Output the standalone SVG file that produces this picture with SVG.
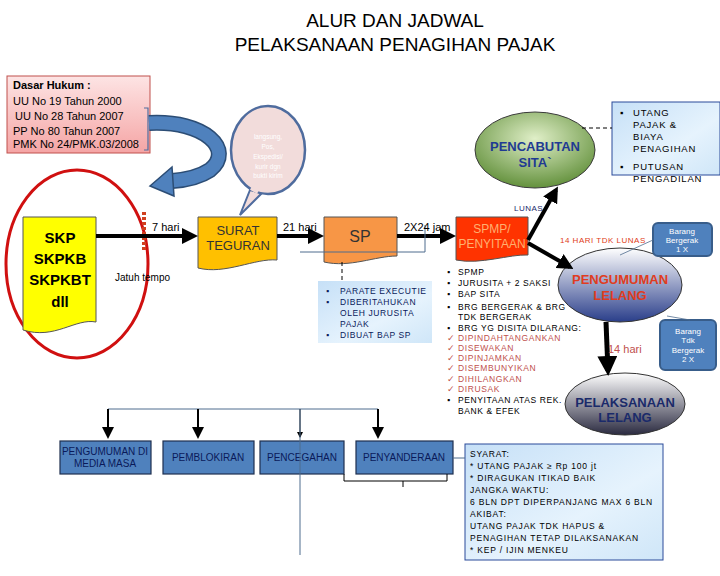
<svg xmlns="http://www.w3.org/2000/svg" width="720" height="576" viewBox="0 0 720 576">
<defs>
<style>
text{font-family:"Liberation Sans",Arial,sans-serif}
.bl{font-size:8.5px;letter-spacing:0.6px}
.th{stroke:#000;stroke-width:4;fill:none}
.thin{stroke:#4f6c8e;stroke-width:1;fill:none}
.box{fill:#4f81bd;stroke:#1f2f4f;stroke-width:1.2}
.bt{font-size:10px;fill:#0a1a5a;text-anchor:middle}
.rb{fill:#4f81bd;stroke:#385d8a;stroke-width:2}
.rbt{font-size:8px;fill:#fff;text-anchor:middle}
</style>
<linearGradient id="pink" x1="0" y1="0" x2="0" y2="1"><stop offset="0" stop-color="#fde4e4"/><stop offset="1" stop-color="#f5a5a5"/></linearGradient>
<linearGradient id="lb" x1="0" y1="0" x2="1" y2="1"><stop offset="0" stop-color="#c6e0f7"/><stop offset="0.6" stop-color="#e6f3fd"/><stop offset="1" stop-color="#cfe6f8"/></linearGradient>
<radialGradient id="grn" cx="0.5" cy="0.35" r="0.7"><stop offset="0" stop-color="#e0efc8"/><stop offset="1" stop-color="#5a8a32"/></radialGradient>
<linearGradient id="nv" x1="0" y1="0" x2="0" y2="1"><stop offset="0" stop-color="#ffffff"/><stop offset="1" stop-color="#2a3e8a"/></linearGradient>
<linearGradient id="dk" x1="0" y1="0" x2="0" y2="1"><stop offset="0" stop-color="#ffffff"/><stop offset="1" stop-color="#2a2a40"/></linearGradient>
<marker id="ah" markerWidth="4" markerHeight="4" refX="3" refY="2" orient="auto" markerUnits="strokeWidth"><path d="M0,0 L4,2 L0,4 z" fill="#000"/></marker>
<marker id="as" markerWidth="6" markerHeight="6" refX="5" refY="3" orient="auto" markerUnits="strokeWidth"><path d="M0,0 L6,3 L0,6 z" fill="#000"/></marker>
</defs>
<rect width="720" height="576" fill="#fff"/>
<text x="395" y="27" font-size="19" text-anchor="middle">ALUR DAN JADWAL</text>
<text x="395" y="51" font-size="19" text-anchor="middle">PELAKSANAAN PENAGIHAN PAJAK</text>

<g id="dasar-hukum">
<rect x="7" y="76" width="143" height="77" fill="url(#pink)" stroke="#c0504d"/>
<g font-size="11" fill="#000"><text x="13" y="89" font-weight="bold">Dasar Hukum :</text>
<text x="13" y="105">UU No 19 Tahun 2000</text><text x="15" y="120"> UU No 28 Tahun 2007</text>
<text x="13" y="135">PP No 80 Tahun 2007</text><text x="13" y="148">PMK No 24/PMK.03/2008</text></g>
<path d="M144,108 H148 V150 H144" fill="none" stroke="#4f6c9e" stroke-width="1.2"/>
</g>
<g id="curved-arrow">
<path d="M149,123 C205,120 235,150 210,170 C198,178 185,180 172,181" fill="none" stroke="#2c4d75" stroke-width="16"/>
<path d="M149,123 C205,120 235,150 210,170 C198,178 185,180 172,181" fill="none" stroke="#4f81bd" stroke-width="13"/>
<path d="M172,167 L150,186 L174,196 Z" fill="#4f81bd" stroke="#2c4d75" stroke-width="1.5"/>
</g>
<g id="bubble">
<path d="M250,190 L240,215 L262,193 Z" fill="#f2dcdb" stroke="#4f6c9e" stroke-width="2"/>
<ellipse cx="268" cy="150" rx="37" ry="44" fill="#f2dcdb" stroke="#4f6c9e" stroke-width="2.5"/>
<path d="M251,188 L258,192" stroke="#f2dcdb" stroke-width="4"/>
<g font-size="6.5" fill="#fff" text-anchor="middle"><text x="268" y="139">langsung,</text><text x="268" y="149">Pos,</text><text x="268" y="159">Ekspedisi/</text><text x="268" y="169">kurir dgn</text><text x="268" y="178">bukti kirim</text></g>
</g>
<g id="pencabutan">
<ellipse cx="535" cy="150" rx="60" ry="38" fill="url(#grn)" stroke="#3a3a3a"/>
<text x="535" y="151" font-size="13" font-weight="bold" fill="#1f3a93" text-anchor="middle">PENCABUTAN</text>
<text x="535" y="167" font-size="13" font-weight="bold" fill="#1f3a93" text-anchor="middle">SITA`</text>
</g>
<g id="utang">
<rect x="612" y="102" width="108" height="73" fill="url(#lb)" stroke="#2a4a9a"/>
<g font-size="9.5" letter-spacing="0.8"><text x="620" y="116">▪</text><text x="633" y="116">UTANG</text><text x="633" y="128">PAJAK &amp;</text><text x="633" y="140">BIAYA</text><text x="633" y="152">PENAGIHAN</text>
<text x="620" y="170">▪</text><text x="633" y="170">PUTUSAN</text><text x="633" y="182">PENGADILAN</text></g>
</g>
<g id="skp">
<ellipse cx="77" cy="264" rx="71" ry="94" fill="none" stroke="#d01010" stroke-width="3"/>
<path d="M23,217 H96 V322 C75,318 55,340 23,330 Z" fill="#ffff00" stroke="#555"/>
<g font-size="15" font-weight="bold" text-anchor="middle"><text x="60" y="243">SKP</text><text x="60" y="264">SKPKB</text><text x="60" y="285">SKPKBT</text><text x="60" y="307">dll</text></g>
<line x1="144" y1="212" x2="144" y2="250" stroke="#d04020" stroke-width="4" stroke-dasharray="3,2"/>
</g>
<g id="surat-teguran">
<path d="M198,217 H277 V260 C255,258 225,275 198,268 Z" fill="#ffc000" stroke="#555"/>
<text x="238" y="235" font-size="13" fill="#333" text-anchor="middle">SURAT</text><text x="238" y="250" font-size="13" fill="#333" text-anchor="middle">TEGURAN</text>
</g>
<g id="sp">
<path d="M324,217 H397 V256 C375,256 350,268 324,262 Z" fill="#f79646" stroke="#555"/>
<text x="360" y="242" font-size="16" fill="#333" text-anchor="middle">SP</text>
</g>
<g id="spmp">
<path d="M456,217 H528 V255 C510,254 480,265 456,260 Z" fill="#ff3300" stroke="#555"/>
<text x="492" y="233" font-size="12" fill="#ffb070" text-anchor="middle">SPMP/</text><text x="492" y="248" font-size="12" fill="#ffb070" text-anchor="middle">PENYITAAN</text>
</g>
<g id="sp-box">
<rect x="318" y="281" width="114" height="62" fill="url(#lb)"/>
<g class="bl" fill="#0a1a5a"><text x="326" y="294">▪</text><text x="340" y="294">PARATE EXECUTIE</text><text x="326" y="305">▪</text><text x="340" y="305">DIBERITAHUKAN</text><text x="340" y="316">OLEH JURUSITA</text><text x="340" y="327">PAJAK</text><text x="326" y="338">▪</text><text x="340" y="338">DIBUAT BAP SP</text></g>
</g>
<g id="spmp-list" class="bl">
<g fill="#000"><text x="447" y="275">▪</text><text x="458" y="275">SPMP</text><text x="447" y="286">▪</text><text x="458" y="286">JURUSITA + 2 SAKSI</text><text x="447" y="297">▪</text><text x="458" y="297">BAP SITA</text><text x="447" y="310">▪</text><text x="458" y="310">BRG BERGERAK &amp; BRG</text><text x="458" y="320">TDK BERGERAK</text><text x="447" y="331">▪</text><text x="458" y="331">BRG YG DISITA DILARANG:</text></g>
<g fill="#c0504d"><text x="447" y="341">✓</text><text x="458" y="341">DIPINDAHTANGANKAN</text><text x="447" y="351">✓</text><text x="458" y="351">DISEWAKAN</text><text x="447" y="361">✓</text><text x="458" y="361">DIPINJAMKAN</text><text x="447" y="371">✓</text><text x="458" y="371">DISEMBUNYIKAN</text><text x="447" y="382">✓</text><text x="458" y="382">DIHILANGKAN</text><text x="447" y="392">✓</text><text x="458" y="392">DIRUSAK</text></g>
<g fill="#000"><text x="447" y="403">▪</text><text x="458" y="403">PENYITAAN ATAS REK.</text><text x="458" y="414">BANK &amp; EFEK</text></g>
</g>
<g id="pengumuman-lelang">
<ellipse cx="620" cy="285" rx="62" ry="37" fill="url(#nv)" stroke="#333"/>
<text x="620" y="284" font-size="13" font-weight="bold" fill="#e03c20" text-anchor="middle">PENGUMUMAN</text><text x="620" y="300" font-size="13" font-weight="bold" fill="#e03c20" text-anchor="middle">LELANG</text>
</g>
<g id="pelaksanaan-lelang">
<ellipse cx="625" cy="404" rx="60" ry="31" fill="url(#dk)" stroke="#333"/>
<text x="625" y="407" font-size="13" font-weight="bold" fill="#1a2a6a" text-anchor="middle">PELAKSANAAN</text><text x="625" y="422" font-size="13" font-weight="bold" fill="#1a2a6a" text-anchor="middle">LELANG</text>
</g>
<g id="barang1"><rect x="653" y="223" width="59" height="33" rx="5" class="rb"/><text x="682" y="234" class="rbt">Barang</text><text x="682" y="243" class="rbt">Bergerak</text><text x="682" y="252" class="rbt">1 X</text></g>
<g id="barang2"><rect x="660" y="320" width="56" height="50" rx="5" class="rb"/><text x="688" y="334" class="rbt">Barang</text><text x="688" y="343" class="rbt">Tdk</text><text x="688" y="353" class="rbt">Bergerak</text><text x="688" y="362" class="rbt">2 X</text></g>
<g id="bottom-boxes">
<rect x="60" y="441" width="91" height="33" class="box"/><text x="105" y="455" class="bt">PENGUMUMAN DI</text><text x="105" y="467" class="bt">MEDIA MASA</text>
<rect x="163" y="441" width="91" height="33" class="box"/><text x="208" y="461" class="bt">PEMBLOKIRAN</text>
<rect x="260" y="441" width="84" height="33" class="box"/><text x="302" y="461" class="bt">PENCEGAHAN</text>
<rect x="356" y="441" width="97" height="33" class="box"/><text x="404" y="461" class="bt">PENYANDERAAN</text>
</g>
<g id="syarat">
<rect x="465" y="444" width="198" height="116" fill="url(#lb)" stroke="#2a4a9a"/>
<g font-size="8.5" letter-spacing="0.8" fill="#000"><text x="470" y="457">SYARAT:</text><text x="470" y="469">* UTANG PAJAK ≥ Rp 100 jt</text><text x="470" y="481">* DIRAGUKAN ITIKAD BAIK</text><text x="470" y="493">JANGKA WAKTU:</text><text x="470" y="505">6 BLN DPT DIPERPANJANG MAX 6 BLN</text><text x="470" y="517">AKIBAT:</text><text x="470" y="529">UTANG PAJAK TDK HAPUS &amp;</text><text x="470" y="541">PENAGIHAN TETAP DILAKSANAKAN</text><text x="470" y="553">* KEP / IJIN MENKEU</text></g>
</g>
<g id="connectors">
<line x1="96" y1="236" x2="194" y2="236" class="th" marker-end="url(#ah)"/>
<line x1="277" y1="236" x2="320" y2="236" class="th" marker-end="url(#ah)"/>
<line x1="397" y1="236" x2="452" y2="236" class="th" marker-end="url(#ah)"/>
<line x1="528" y1="240" x2="556" y2="190" class="th" marker-end="url(#ah)"/>
<line x1="528" y1="243" x2="570" y2="267" class="th" marker-end="url(#ah)"/>
<line x1="606" y1="322" x2="608" y2="371" stroke="#000" stroke-width="5" marker-end="url(#ah)"/>
<line x1="582" y1="128" x2="612" y2="128" stroke="#000" stroke-dasharray="4,3"/>
<line x1="342" y1="262" x2="342" y2="281" stroke="#000" stroke-dasharray="4,3"/>
<line x1="620" y1="255" x2="653" y2="240" stroke="#4f6c8e" stroke-width="0.8"/>
<line x1="667" y1="316" x2="690" y2="320" stroke="#4f6c8e" stroke-width="0.8"/>
<path d="M300,252 H425 V225" class="thin"/>
<path d="M108,409 H378" class="thin"/>
<line x1="108" y1="409" x2="108" y2="437" stroke="#000" stroke-width="2" marker-end="url(#as)"/>
<line x1="198" y1="409" x2="198" y2="437" stroke="#000" stroke-width="2" marker-end="url(#as)"/>
<line x1="300" y1="409" x2="300" y2="437" stroke="#000" stroke-width="1" marker-end="url(#as)"/>
<line x1="300" y1="409" x2="300" y2="555" class="thin"/>
<line x1="378" y1="409" x2="378" y2="437" stroke="#000" stroke-width="2" marker-end="url(#as)"/>
<path d="M344,474 V481 H447 V474 M403,481 V487" fill="none" stroke="#000"/>
<line x1="453" y1="458" x2="465" y2="458" class="thin"/>
</g>
<g id="labels">
<text x="152" y="231" font-size="11">7 hari</text>
<text x="115" y="281" font-size="10">Jatuh tempo</text>
<text x="283" y="231" font-size="11">21 hari</text>
<text x="404" y="231" font-size="11">2X24 jam</text>
<text x="514" y="211" font-size="8" fill="#1a2a6a" letter-spacing="0.5">LUNAS</text>
<text x="560" y="243" font-size="8" fill="#e03c20" letter-spacing="0.5">14 HARI TDK LUNAS</text>
<text x="608" y="353" font-size="11" fill="#c0504d">14 hari</text>
</g>
</svg>
